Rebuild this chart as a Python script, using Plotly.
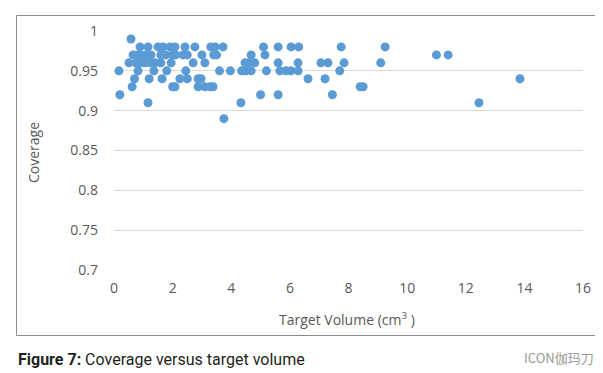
import plotly.graph_objects as go

# Target volume (cm^3) and coverage
volume = [
    0.17, 0.2, 0.58, 0.62, 0.7, 0.82, 1.16, 1.2, 1.36, 1.64, 1.8, 2.0,
    0.89, 1.16, 1.5, 1.67, 1.91, 2.08,
    0.65, 0.92, 1.26, 1.6, 1.77, 2.0, 0.8, 1.1,
    0.51, 0.75, 1.06, 1.4, 1.6, 1.95, 0.9, 1.25,
    2.42, 2.76, 3.3, 3.45, 3.72,
    2.1, 2.35, 2.5, 3.0, 3.4, 3.5,
    2.7, 3.1,
    2.45, 3.6, 3.97,
    2.25, 2.5, 2.87, 2.97,
    2.08, 2.87, 3.1, 3.28, 3.38,
    3.75,
    4.33,
    5.1, 5.6, 6.04, 6.3,
    4.68, 5.15,
    4.47, 4.8, 5.6, 6.28, 4.6,
    4.35, 4.5, 4.68, 5.2, 5.66, 5.87, 6.04, 6.28,
    6.62, 7.2,
    5.0, 5.6,
    7.06, 7.3, 7.85,
    7.75, 7.7,
    8.4, 8.5,
    7.45,
    9.25, 9.1,
    11.0, 11.4,
    12.45,
    13.85,
]
coverage = [
    0.95, 0.92, 0.99, 0.93, 0.94, 0.95, 0.91, 0.94, 0.95, 0.94, 0.95, 0.93,
    0.98, 0.98, 0.98, 0.98, 0.98, 0.98,
    0.97, 0.97, 0.97, 0.97, 0.97, 0.97, 0.97, 0.97,
    0.96, 0.96, 0.96, 0.96, 0.96, 0.96, 0.96, 0.96,
    0.98, 0.98, 0.98, 0.98, 0.98,
    0.97, 0.97, 0.97, 0.97, 0.97, 0.97,
    0.96, 0.96,
    0.95, 0.95, 0.95,
    0.94, 0.94, 0.94, 0.94,
    0.93, 0.93, 0.93, 0.93, 0.93,
    0.89,
    0.91,
    0.98, 0.98, 0.98, 0.98,
    0.97, 0.97,
    0.96, 0.96, 0.96, 0.96, 0.96,
    0.95, 0.95, 0.95, 0.95, 0.95, 0.95, 0.95, 0.95,
    0.94, 0.94,
    0.92, 0.92,
    0.96, 0.96, 0.96,
    0.98, 0.95,
    0.93, 0.93,
    0.92,
    0.98, 0.96,
    0.97, 0.97,
    0.91,
    0.94,
]

x_ticks = [0, 2, 4, 6, 8, 10, 12, 14, 16]
y_ticks = [0.7, 0.75, 0.8, 0.85, 0.9, 0.95, 1.0]
y_tick_text = ["0.7", "0.75", "0.8", "0.85", "0.9", "0.95", "1"]

W, H = 603, 373
L, R, T, B = 106, 28, 23, 111
pw, ph = W - L - R, H - T - B

def px(xp):
    return (xp - L) / pw

def py(yp):
    return (H - B - yp) / ph

gray = "#595959"
font = "Open Sans, Lato, sans-serif"

fig = go.Figure()
fig.add_trace(go.Scatter(
    x=volume, y=coverage, mode="markers",
    marker=dict(color="#5B9BD5", size=9, line=dict(width=0)),
    cliponaxis=False, showlegend=False,
))

fig.update_layout(
    width=W, height=H,
    margin=dict(l=L, r=R, t=T, b=B),
    paper_bgcolor="white", plot_bgcolor="white",
    font=dict(family=font, size=14, color=gray),
    xaxis=dict(
        range=[0, 16], tickvals=x_ticks, showgrid=False, zeroline=False,
        showline=False, ticks="", ticklabelstandoff=8,
        tickfont=dict(family=font, size=14, color=gray), fixedrange=True,
    ),
    yaxis=dict(
        range=[0.7, 1.0], tickvals=y_ticks, ticktext=y_tick_text,
        showgrid=True, gridcolor="#D9D9D9", gridwidth=1, zeroline=False,
        showline=False, ticks="", ticklabelstandoff=15,
        tickfont=dict(family=font, size=14, color=gray), fixedrange=True,
    ),
    shapes=[dict(
        type="rect", xref="paper", yref="paper",
        x0=px(8.5), x1=px(588.5), y0=py(327.5), y1=py(7.5),
        line=dict(color="#8C8C8C", width=1), fillcolor="rgba(0,0,0,0)",
        layer="below",
    )],
    annotations=[
        dict(text="Coverage", xref="paper", yref="paper", x=px(25), y=py(145),
             textangle=-90, showarrow=False, xanchor="center", yanchor="middle",
             font=dict(family=font, size=14, color=gray)),
        dict(text="Target Volume (cm<sup>3</sup> )", xref="paper", yref="paper",
             x=px(339), y=py(311), showarrow=False, xanchor="center", yanchor="middle",
             font=dict(family=font, size=14, color=gray)),
        dict(text="<b>Figure 7:</b> Coverage versus target volume", xref="paper", yref="paper",
             x=px(8), y=py(351), showarrow=False, xanchor="left", yanchor="middle",
             font=dict(family="Roboto, sans-serif", size=16, color="#231F20")),
        dict(text="ICON伽玛刀", xref="paper", yref="paper",
             x=px(588), y=py(349), showarrow=False, xanchor="right", yanchor="middle",
             font=dict(family="Noto Sans CJK SC, sans-serif", size=13, color="#9A9A9A")),
    ],
)

fig.write_html("out.html")
